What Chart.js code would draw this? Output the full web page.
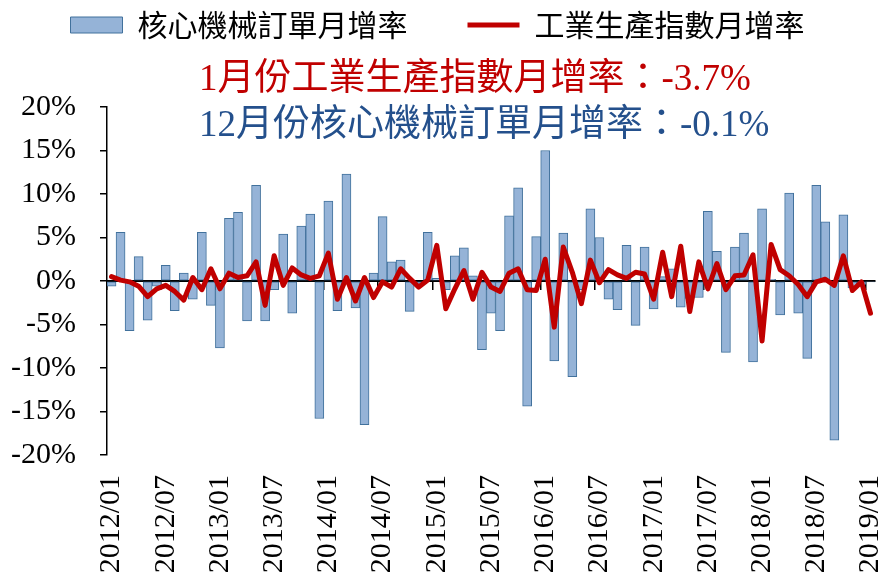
<!DOCTYPE html>
<html>
<head>
<meta charset="utf-8">
<script src="https://cdn.jsdelivr.net/npm/chart.js@4/dist/chart.umd.min.js"></script>
<style>
body { margin: 0; background: #fff; }
</style>
</head>
<body>
<canvas id="chart" width="883" height="580"></canvas>
<script>
// monthly categories 2012/01 .. 2019/01
const months = [];
for (let y = 2012; y <= 2019; y++) {
    for (let m = 1; m <= 12; m++) {
        if (y === 2019 && m > 1) break;
        months.push(y + '/' + String(m).padStart(2, '0'));
    }
}

// 核心機械訂單月增率 (%)
const machineryOrders = [
    -0.6, 5.6, -5.7, 2.8, -4.5, -0.6, 1.8, -3.4, 0.9, -2.1, 5.6, -2.8,
    -7.7, 7.2, 7.9, -4.6, 11.0, -4.6, -1.0, 5.4, -3.7, 6.3, 7.7, -15.8,
    9.2, -3.4, 12.3, -3.1, -16.5, 0.9, 7.4, 2.2, 2.4, -3.5, -0.5, 5.6,
    0.3, -1.0, 2.9, 3.8, 0.6, -7.9, -3.7, -5.7, 7.5, 10.7, -14.4, 5.1,
    15.0, -9.2, 5.5, -11.0, -1.0, 8.3, 5.0, -2.1, -3.3, 4.1, -5.1, 3.9,
    -3.2, 0.5, 1.4, -3.0, -2.0, -1.9, 8.0, 3.4, -8.2, 3.9, 5.5, -9.3,
    8.3, 0.2, -3.9, 10.1, -3.7, -8.9, 11.0, 6.8, -18.3, 7.6, -0.8, -0.4,
    -0.1
];

// 工業生產指數月增率 (%)
const industrialProduction = [
    0.5, 0.1, -0.1, -0.6, -1.8, -0.9, -0.5, -1.2, -2.2, 0.4, -1.0, 1.4,
    -0.9, 0.9, 0.4, 0.6, 2.2, -2.8, 2.9, -0.5, 1.5, 0.7, 0.3, 0.6,
    3.2, -2.1, 0.4, -2.3, 0.4, -1.9, -0.1, -0.7, 1.4, 0.3, -0.7, 0.1,
    4.1, -3.2, -0.9, 1.2, -2.1, 1.0, -0.7, -1.2, 0.9, 1.4, -1.0, -1.1,
    2.5, -5.3, 3.9, 1.0, -2.6, 2.4, -0.2, 1.3, 0.7, 0.3, 1.0, 0.8,
    -2.1, 3.3, -1.8, 4.0, -3.5, 2.2, -0.9, 2.0, -1.0, 0.6, 0.7, 3.0,
    -6.9, 4.2, 1.3, 0.6, -0.4, -1.8, -0.1, 0.2, -0.5, 2.9, -1.1, -0.1,
    -3.7
];

const noteTexts = ['1月份工業生產指數月增率：-3.7%', '12月份核心機械訂單月增率：-0.1%'];

const serif = "'Liberation Serif', 'Times New Roman', serif";
const cjk = "'Noto Sans CJK TC', sans-serif";

// red / blue note drawn over the top of the plot
const notePlugin = {
    id: 'note',
    afterDraw(chart) {
        const ctx = chart.ctx;
        ctx.save();
        ctx.font = "37px 'Liberation Serif', 'Noto Sans CJK TC'";
        ctx.textAlign = 'left';
        ctx.textBaseline = 'alphabetic';
        ctx.fillStyle = '#C00000';
        ctx.fillText(noteTexts[0], 199, 90);
        ctx.fillStyle = '#24508C';
        ctx.fillText(noteTexts[1], 199, 136);
        ctx.restore();
    }
};

new Chart(document.getElementById('chart'), {
    type: 'bar',
    data: {
        labels: months,
        datasets: [{
            type: 'bar',
            label: '核心機械訂單月增率',
            data: machineryOrders,
            backgroundColor: '#95B3D7',
            borderColor: '#41719C',
            borderWidth: 1,
            borderSkipped: false,
            barPercentage: 1,
            categoryPercentage: 1,
            pointStyle: 'rect',
            order: 2
        }, {
            type: 'line',
            label: '工業生產指數月增率',
            data: industrialProduction,
            borderColor: '#C00000',
            backgroundColor: '#C00000',
            borderWidth: 5,
            borderJoinStyle: 'round',
            borderCapStyle: 'round',
            tension: 0,
            pointRadius: 0,
            pointHoverRadius: 0,
            pointStyle: 'line',
            pointBorderWidth: 5,
            pointBorderColor: '#C00000',
            order: 1
        }]
    },
    options: {
        responsive: false,
        animation: false,
        devicePixelRatio: 1,
        events: [],
        // negative top so the wide legend padding doesn't push the row down
        layout: { padding: { top: -50, right: 8, bottom: 0, left: 0 } },
        plugins: {
            tooltip: { enabled: false },
            legend: {
                position: 'top',
                maxHeight: 100,
                labels: {
                    color: '#000',
                    font: { family: cjk, size: 30 },
                    usePointStyle: true,
                    pointStyleWidth: 52,
                    boxHeight: 16,
                    padding: 60,
                    sort: (a, b) => a.datasetIndex - b.datasetIndex
                }
            },
            // empty title used only as a spacer between legend and plot
            title: {
                display: true,
                text: '',
                weight: 500,
                font: { size: 10 },
                padding: { top: 0, bottom: 45 }
            }
        },
        scales: {
            x: {
                offset: true,
                grid: { display: false, drawTicks: false, offset: true },
                border: { display: false },
                ticks: {
                    autoSkip: false,
                    minRotation: 90,
                    maxRotation: 90,
                    padding: 20,
                    color: '#000',
                    font: { family: serif, size: 30 },
                    callback: (v, i) => i % 6 === 0 ? months[i] : ''
                },
                afterFit: (s) => { s.height = 125; s.paddingLeft = 0; s.paddingRight = 0; }
            },
            x0: {
                type: 'category',
                axis: 'x',
                position: { y: 0 },
                offset: true,
                grid: {
                    drawOnChartArea: false,
                    offset: true,
                    tickLength: 8,
                    lineWidth: 1.5,
                    color: (c) => c.index % 6 === 0 ? '#000' : 'rgba(0,0,0,0)'
                },
                border: { color: '#000', width: 2 },
                ticks: { display: false }
            },
            y: {
                min: -20,
                max: 20,
                ticks: {
                    stepSize: 5,
                    padding: 24,
                    color: '#000',
                    font: { family: serif, size: 30 },
                    callback: (v) => v + '%'
                },
                grid: { drawOnChartArea: false, tickLength: 7, color: '#000', lineWidth: 1.5 },
                border: { color: '#000', width: 1.5 },
                afterFit: (s) => { s.width = 107; }
            }
        }
    },
    plugins: [notePlugin]
});
</script>
</body>
</html>
